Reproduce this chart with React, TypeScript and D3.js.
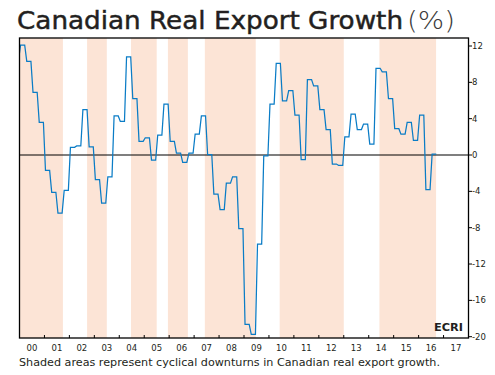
import React from "react";
import * as d3 from "d3";

// Quarterly real export growth (%), starting with Q4 1999 and ending Q3 2016
const firstQuarterYear = 1999;
const firstQuarterNum = 4;
const quarterlyGrowth = [
  10.4, 12.1, 10.3, 6.9, 3.6, -1.7, -4.1, -6.4, -3.9, 0.85, 1.0, 5.0, 0.9,
  -2.7, -5.3, -2.4, 4.3, 3.7, 10.8, 6.2, 1.5, 1.9, -0.55, 2.2, 5.6, 1.5, 0.2,
  -0.8, 0.2, 2.3, 4.3, 0.05, -4.3, -6.0, -3.1, -2.4, -8.1, -18.65, -19.75,
  -9.8, -0.1, 5.6, 10.1, 5.95, 7.1, 4.4, -0.5, 8.3, 7.6, 5.0, 2.8, -1.0,
  -1.15, 2.0, 4.5, 2.8, 3.4, 1.2, 9.55, 9.15, 6.2, 2.9, 2.3, 3.6, 1.6, 4.4,
  -3.8, 0.1,
];

// Cyclical downturns (decimal years)
const downturnStart = [2000.0, 2002.71, 2004.47, 2005.95, 2007.43, 2010.43, 2014.43];
const downturnEnd = [2001.74, 2003.5, 2005.5, 2006.75, 2009.47, 2013.0, 2016.7];

const yearLabels = ["00", "01", "02", "03", "04", "05", "06", "07", "08", "09", "10", "11", "12", "13", "14", "15", "16", "17"];
const yTicks = [-20, -16, -12, -8, -4, 0, 4, 8, 12];

const W = 495;
const H = 375;
const left = 19.5;
const right = 468.5;
const top = 38;
const bottom = 338;

export default function App() {
  const x = d3.scaleLinear().domain([2000, 2018]).range([left, right]);
  const y = d3.scaleLinear().domain([-20, 12]).range([336.7, 46]);

  // each quarter is a flat level across its three months (points at mid-month)
  const pts: [number, number][] = [];
  quarterlyGrowth.forEach((v, i) => {
    const qStart = firstQuarterYear + (firstQuarterNum - 1) / 4 + i / 4;
    pts.push([qStart + 0.5 / 12, v]);
    pts.push([qStart + 2.5 / 12, v]);
  });
  const line = d3
    .line<[number, number]>()
    .x((d) => x(d[0]))
    .y((d) => y(d[1]));

  const font = "'DejaVu Sans', sans-serif";
  const xTickYears = d3.range(2001, 2018);

  return (
    <svg width={W} height={H} style={{ position: "absolute", left: 0, top: 0 }}>
      <rect width={W} height={H} fill="#fff" />
      <text
        x={17}
        y={29}
        fontFamily={font}
        fontSize={24}
        fill="#231f20"
        stroke="#231f20"
        strokeWidth={0.45}
        textLength={386}
        lengthAdjust="spacingAndGlyphs"
      >
        Canadian Real Export Growth
      </text>
      <text
        x={407}
        y={29}
        fontFamily={font}
        fontSize={24}
        fontWeight={200}
        fill="#3a3a3a"
        textLength={48}
        lengthAdjust="spacingAndGlyphs"
      >
        (%)
      </text>
      <defs>
        <clipPath id="plotClip">
          <rect x={left} y={top} width={right - left} height={bottom - top} />
        </clipPath>
      </defs>
      {downturnStart.map((s, i) => (
        <rect
          key={i}
          x={x(s)}
          y={top}
          width={x(downturnEnd[i]) - x(s)}
          height={bottom - top}
          fill="#fce4d6"
        />
      ))}
      <line x1={left} x2={right} y1={y(0)} y2={y(0)} stroke="#000" strokeWidth={1.1} />
      <path
        d={line(pts) || ""}
        fill="none"
        stroke="#0a7cc6"
        strokeWidth={1.25}
        clipPath="url(#plotClip)"
      />
      <rect
        x={left}
        y={top}
        width={right - left}
        height={bottom - top}
        fill="none"
        stroke="#000"
        strokeWidth={1.3}
      />
      {xTickYears.map((yr) => (
        <line key={yr} x1={x(yr)} x2={x(yr)} y1={bottom} y2={bottom - 3} stroke="#000" strokeWidth={1} />
      ))}
      {yearLabels.map((lab, i) => (
        <text
          key={lab}
          x={x(2000 + i + 0.5)}
          y={350.5}
          textAnchor="middle"
          fontFamily={font}
          fontSize={8.5}
          fill="#231f20"
        >
          {lab}
        </text>
      ))}
      {yTicks.map((t) => (
        <g key={t}>
          <line x1={right} x2={right + 3.5} y1={y(t)} y2={y(t)} stroke="#000" strokeWidth={1} />
          <text x={472} y={y(t) + 3} fontFamily={font} fontSize={8.5} fill="#231f20">
            {t}
          </text>
        </g>
      ))}
      <text
        x={434}
        y={330.7}
        fontFamily={font}
        fontSize={11}
        fontWeight="bold"
        fill="#231f20"
        textLength={29}
        lengthAdjust="spacingAndGlyphs"
      >
        ECRI
      </text>
      <text
        x={19}
        y={365.5}
        fontFamily={font}
        fontSize={10.5}
        fill="#231f20"
        textLength={421}
        lengthAdjust="spacingAndGlyphs"
      >
        Shaded areas represent cyclical downturns in Canadian real export growth.
      </text>
    </svg>
  );
}
